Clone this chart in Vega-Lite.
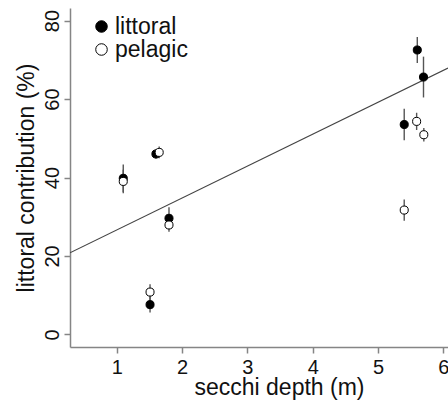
{
  "$schema": "https://vega.github.io/schema/vega-lite/v6.json",
  "width": 378,
  "height": 339,
  "autosize": {"type": "none"},
  "padding": {"left": 70, "top": 8, "right": 0, "bottom": 64},
  "background": "white",
  "config": {
    "view": {"stroke": null},
    "font": "Liberation Sans",
    "axis": {
      "grid": false,
      "domainColor": "#858585",
      "domainWidth": 1.5,
      "tickColor": "#858585",
      "tickWidth": 1.5,
      "tickSize": 6,
      "labelColor": "#111111",
      "labelFontSize": 20,
      "titleColor": "#111111",
      "titleFontSize": 23,
      "titleFontWeight": "normal",
      "labelFlush": false,
      "labelOverlap": false
    }
  },
  "datasets": {
    "pts": [
      {"depth": 1.10, "contrib": 39.8, "lo": 36.3, "hi": 43.3, "type": "littoral"},
      {"depth": 1.60, "contrib": 46.0, "lo": 44.8, "hi": 47.2, "type": "littoral"},
      {"depth": 1.80, "contrib": 29.6, "lo": 26.8, "hi": 32.4, "type": "littoral"},
      {"depth": 1.51, "contrib": 7.6, "lo": 5.6, "hi": 9.6, "type": "littoral"},
      {"depth": 5.40, "contrib": 53.5, "lo": 49.5, "hi": 57.5, "type": "littoral"},
      {"depth": 5.60, "contrib": 72.5, "lo": 69.2, "hi": 75.8, "type": "littoral"},
      {"depth": 5.695, "contrib": 65.6, "lo": 60.4, "hi": 70.8, "type": "littoral"},
      {"depth": 1.10, "contrib": 39.0, "lo": 36.0, "hi": 42.0, "type": "pelagic"},
      {"depth": 1.65, "contrib": 46.4, "lo": 44.9, "hi": 47.9, "type": "pelagic"},
      {"depth": 1.80, "contrib": 27.9, "lo": 26.2, "hi": 29.6, "type": "pelagic"},
      {"depth": 1.51, "contrib": 10.8, "lo": 8.8, "hi": 12.8, "type": "pelagic"},
      {"depth": 5.59, "contrib": 54.3, "lo": 52.1, "hi": 56.5, "type": "pelagic"},
      {"depth": 5.70, "contrib": 50.9, "lo": 49.2, "hi": 52.6, "type": "pelagic"},
      {"depth": 5.40, "contrib": 31.7, "lo": 29.0, "hi": 34.4, "type": "pelagic"}
    ],
    "fit": [
      {"depth": 0.285, "contrib": 20.8},
      {"depth": 6.07, "contrib": 67.9}
    ]
  },
  "layer": [
    {
      "data": {"name": "fit"},
      "mark": {"type": "line", "color": "#444444", "strokeWidth": 1.1, "clip": true},
      "encoding": {
        "x": {
          "field": "depth", "type": "quantitative",
          "scale": {"domain": [0.285, 6.07], "nice": false, "zero": false},
          "axis": {
            "values": [1, 2, 3, 4, 5, 6],
            "format": "d",
            "labelBaseline": "alphabetic",
            "labelPadding": 20,
            "title": "secchi depth (m)",
            "titleX": 209,
            "titleY": 47,
            "titleBaseline": "alphabetic",
            "titleAlign": "center",
            "titleAnchor": null
          }
        },
        "y": {
          "field": "contrib", "type": "quantitative",
          "scale": {"domain": [-3.2, 83.2], "nice": false, "zero": false},
          "axis": {
            "values": [0, 20, 40, 60, 80],
            "format": "d",
            "labelAngle": 270,
            "labelAlign": "center",
            "labelBaseline": "alphabetic",
            "labelPadding": 6,
            "title": "littoral contribution (%)",
            "titleAngle": 270,
            "titleX": -37,
            "titleY": 169.5,
            "titleBaseline": "alphabetic",
            "titleAlign": "center"
          }
        }
      }
    },
    {
      "data": {"name": "pts"},
      "mark": {"type": "rule", "color": "#555555", "strokeWidth": 1.4},
      "encoding": {
        "x": {"field": "depth", "type": "quantitative"},
        "y": {"field": "lo", "type": "quantitative"},
        "y2": {"field": "hi"}
      }
    },
    {
      "data": {"name": "pts"},
      "mark": {"type": "point", "shape": "circle", "filled": true, "stroke": "black", "strokeWidth": 1, "size": 65, "opacity": 1},
      "encoding": {
        "x": {"field": "depth", "type": "quantitative"},
        "y": {"field": "contrib", "type": "quantitative"},
        "fill": {
          "field": "type", "type": "nominal",
          "scale": {"domain": ["littoral", "pelagic"], "range": ["black", "white"]},
          "legend": {
            "title": null,
            "orient": "none",
            "legendX": 20,
            "legendY": 8.5,
            "labelFontSize": 23,
            "labelColor": "#111111",
            "labelOffset": 2,
            "rowPadding": 0,
            "clipHeight": 20,
            "symbolType": "circle",
            "symbolSize": 133,
            "symbolStrokeColor": "black",
            "symbolStrokeWidth": 1,
            "symbolOpacity": 1
          }
        },
        "order": {"field": "type", "sort": "ascending"}
      }
    }
  ]
}
